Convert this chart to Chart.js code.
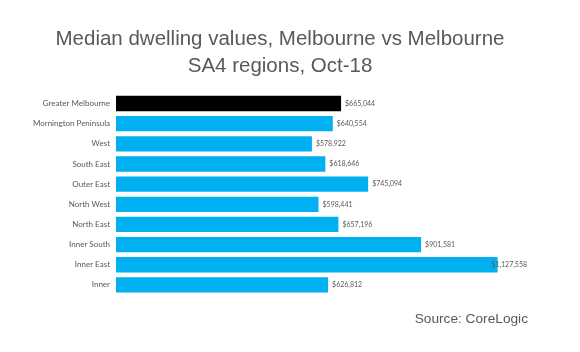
<!DOCTYPE html>
<html>
<head>
<meta charset="utf-8">
<script src="https://cdn.jsdelivr.net/npm/chart.js@4.4.1/dist/chart.umd.min.js"></script>
<style>
html,body{margin:0;padding:0;background:#fff;}
#wrap{width:580px;height:352px;position:relative;}
</style>
</head>
<body>
<div id="wrap"><canvas id="c" width="580" height="352"></canvas></div>
<script>
const categories = ["Greater Melbourne","Mornington Peninsula","West","South East","Outer East","North West","North East","Inner South","Inner East","Inner"];
const medianValues = [665044,640554,578922,618646,745094,598441,657196,901581,1127558,626812];
const titleLines = ["Median dwelling values, Melbourne vs Melbourne","SA4 regions, Oct-18"];
const sourceText = "Source: CoreLogic";

const textGray = "#595959";
const fmt = v => "$" + v.toLocaleString("en-US");
const labelRightLimit = 527;

const valueLabels = {
  id: "valueLabels",
  afterDatasetsDraw(chart) {
    const ctx = chart.ctx;
    const meta = chart.getDatasetMeta(0);
    ctx.save();
    ctx.font = "7px Lato";
    ctx.fillStyle = textGray;
    ctx.textAlign = "left";
    ctx.textBaseline = "middle";
    meta.data.forEach((bar, i) => {
      const t = fmt(medianValues[i]);
      const w = ctx.measureText(t).width;
      const x = Math.min(bar.x + 4, labelRightLimit - w);
      ctx.fillText(t, x, bar.y);
    });
    ctx.restore();
  }
};

const sourceNote = {
  id: "sourceNote",
  afterDraw(chart) {
    const ctx = chart.ctx;
    ctx.save();
    ctx.font = "13.7px 'Liberation Sans', Arial";
    ctx.fillStyle = textGray;
    ctx.textAlign = "right";
    ctx.textBaseline = "alphabetic";
    ctx.fillText(sourceText, 528, 322.5);
    ctx.restore();
  }
};

new Chart(document.getElementById("c"), {
  type: "bar",
  data: {
    labels: categories,
    datasets: [{
      data: medianValues,
      backgroundColor: ctx => ctx.dataIndex === 0 ? "#000000" : "#00B0F0",
      borderWidth: 0,
      categoryPercentage: 1,
      barPercentage: 0.76
    }]
  },
  options: {
    indexAxis: "y",
    responsive: false,
    animation: false,
    layout: { padding: { left: 0, right: 20, top: 26, bottom: 57 } },
    plugins: {
      legend: { display: false },
      tooltip: { enabled: false },
      title: {
        display: true,
        text: titleLines,
        color: textGray,
        font: { family: "'Liberation Sans', Arial", size: 20.5, weight: "normal", lineHeight: 1.32 },
        padding: { top: 0, bottom: 13.3 }
      }
    },
    scales: {
      x: {
        display: false,
        min: 0,
        max: 1312000
      },
      y: {
        grid: { display: false, drawTicks: false },
        border: { display: false },
        ticks: { color: textGray, font: { family: "Lato", size: 8 }, padding: 6 },
        afterFit(scale) { scale.width = 116; }
      }
    }
  },
  plugins: [valueLabels, sourceNote]
});
</script>
</body>
</html>
